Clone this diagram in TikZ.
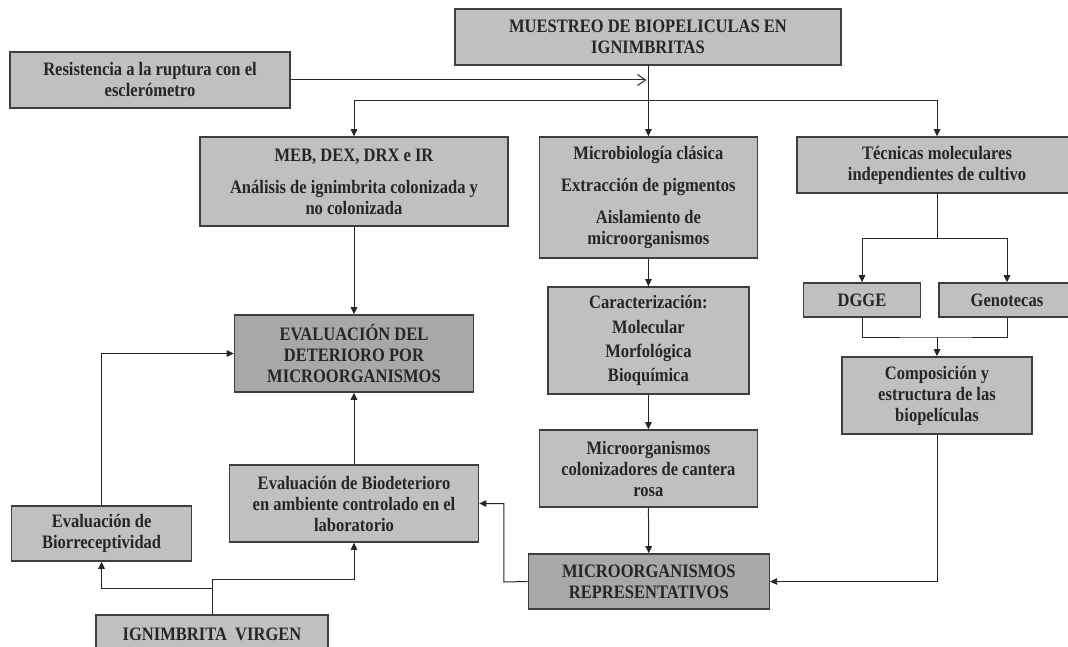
\documentclass[tikz,border=0pt]{standalone}
\usepackage{fontspec}
\setmainfont{Liberation Serif}[FakeStretch=0.87]
\usetikzlibrary{arrows.meta}
\definecolor{lightbox}{HTML}{C0C0C0}
\definecolor{darkbox}{HTML}{A8A8A8}
\definecolor{edgecol}{HTML}{3E3E3E}
\definecolor{textcol}{HTML}{262626}
\tikzset{
  box/.style={draw=edgecol, line width=1.6pt, fill=lightbox, align=center,
    inner sep=0pt, text=textcol,
    font=\fontsize{19}{21}\selectfont\bfseries},
  darkbx/.style={box, fill=darkbox},
  conn/.style={line width=1pt, draw=black!85},
  arr/.style={conn, -{Triangle[length=7pt,width=6.5pt]}},
  openarr/.style={conn, -{Straight Barb[length=8pt,width=11pt]}}
}
\begin{document}
\begin{tikzpicture}[x=1pt,y=-1pt]
\useasboundingbox (0,0) rectangle (1068,647);
\clip (0,0) rectangle (1068,647);

% nodes
\node[box, minimum width=386pt, minimum height=56pt] (muestreo) at (648,37)
  {MUESTREO DE BIOPELICULAS EN\\IGNIMBRITAS};
\node[box, minimum width=280pt, minimum height=56pt] (resist) at (150,80)
  {Resistencia a la ruptura con el\\esclerómetro};
\node[box, minimum width=308pt, minimum height=89pt] (meb) at (354,181.5)
  {MEB, DEX, DRX e IR\\[11pt]Análisis de ignimbrita colonizada y\\no colonizada};
\node[box, minimum width=218pt, minimum height=121pt] (micro) at (648.4,197.5)
  {Microbiología clásica\\[11pt]Extracción de pigmentos\\[11pt]Aislamiento de\\microorganismos};
\node[box, minimum width=280pt, minimum height=56pt] (tecnicas) at (937,165)
  {Técnicas moleculares\\independientes de cultivo};
\node[box, minimum width=117pt, minimum height=34pt] (dgge) at (862,300)
  {DGGE};
\node[box, minimum width=136pt, minimum height=34pt] (geno) at (1007,300)
  {Genotecas};
\node[box, minimum width=190pt, minimum height=77pt] (compos) at (937,395.5)
  {Composición y\\estructura de las\\biopelículas};
\node[box, minimum width=201pt, minimum height=107pt] (caract) at (648.4,340.5)
  {Caracterización:\\[4pt]Molecular\\[3pt]Morfológica\\[3pt]Bioquímica};
\node[box, minimum width=218pt, minimum height=77pt] (colon) at (648.4,468.5)
  {Microorganismos\\colonizadores de cantera\\rosa};
\node[darkbx, minimum width=241pt, minimum height=55pt] (repres) at (648.8,581.5)
  {MICROORGANISMOS\\REPRESENTATIVOS};
\node[darkbx, minimum width=239pt, minimum height=77pt] (evaldet) at (354,353.5)
  {EVALUACIÓN DEL\\DETERIORO POR\\MICROORGANISMOS};
\node[box, minimum width=249pt, minimum height=77pt] (biodet) at (354,503.5)
  {Evaluación de Biodeterioro\\en ambiente controlado en el\\laboratorio};
\node[box, minimum width=180pt, minimum height=55pt] (biorrec) at (101.6,533.5)
  {Evaluación de\\Biorreceptividad};
\node[box, minimum width=232pt, minimum height=38pt] (virgen) at (212,634)
  {IGNIMBRITA\ \ VIRGEN};

% coordinates
\coordinate (split) at (648.4,101);
\coordinate (tsplit) at (937,238);
\coordinate (join) at (937,337);
\coordinate (rbend) at (503.8,582);
\coordinate (vsplit) at (212,579);
\coordinate (vleft) at (212,588);

% connectors
\draw[openarr] (resist.east) -- ([xshift=-2pt]resist.east -| micro.north);
\draw[arr] (muestreo.south -| micro.north) -- (micro.north);
\draw[arr] (split) -| (meb.north);
\draw[arr] (split) -| (tecnicas.north);
\draw[arr] (meb.south) -- (evaldet.north);
\draw[arr] (micro.south) -- (caract.north);
\draw[arr] (caract.south) -- (colon.north);
\draw[arr] (colon.south) -- (repres.north);
\draw[conn] (tecnicas.south) -- (tsplit);
\draw[arr] (tsplit) -| (dgge.north);
\draw[arr] (tsplit) -| (geno.north);
\draw[conn] (dgge.south) |- (join) -| (geno.south);
\draw[arr] (join) -- (compos.north);
\draw[arr] (compos.south) |- (repres.east);
\draw[arr] (repres.west) -- (rbend) |- (biodet.east);
\draw[arr] (biodet.north) -- (evaldet.south);
\draw[arr] (biorrec.north) |- (evaldet.west);
\draw[conn] (virgen.north) -- (vsplit);
\draw[arr] (vsplit) -| (biodet.south);
\draw[arr] (vleft) -| (biorrec.south);
\end{tikzpicture}
\end{document}
